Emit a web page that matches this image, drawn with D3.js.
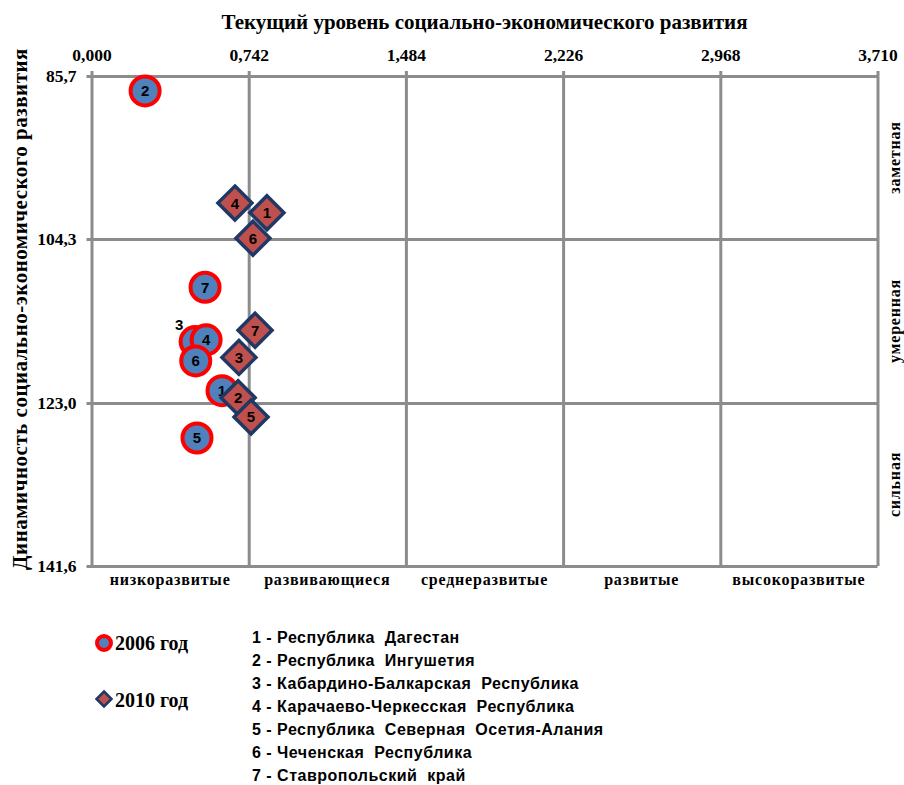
<!DOCTYPE html>
<html>
<head>
<meta charset="utf-8">
<script src="https://cdn.jsdelivr.net/npm/d3@7"></script>
<style>
  body { margin: 0; background: #fff; }
  svg { display: block; }
  .serif { font-family: "Liberation Serif", "Times New Roman", serif; font-weight: bold; }
  .sans { font-family: "Liberation Sans", Arial, sans-serif; font-weight: bold; }
</style>
</head>
<body>
<div id="chart"></div>
<script>
// regions (numbered 1..7 in the legend)
const regions = [
    "Республика  Дагестан",
    "Республика  Ингушетия",
    "Кабардино-Балкарская  Республика",
    "Карачаево-Черкесская  Республика",
    "Республика  Северная  Осетия-Алания",
    "Чеченская  Республика",
    "Ставропольский  край"
];

// 2006: current level (x) and dynamics (y)
const x2006 = [0.616, 0.253, 0.489, 0.541, 0.498, 0.492, 0.536];
const y2006 = [121.6, 87.4, 116.0, 115.8, 127.0, 118.2, 109.8];

// 2010
const x2010 = [0.828, 0.692, 0.696, 0.677, 0.753, 0.762, 0.772];
const y2010 = [101.3, 122.4, 117.8, 100.2, 124.6, 104.2, 114.7];

const xTicks = [0, 0.742, 1.484, 2.226, 2.968, 3.710];
const yTicks = [85.7, 104.3, 123.0, 141.6];
const levelLabels = ["низкоразвитые", "развивающиеся", "среднеразвитые", "развитые", "высокоразвитые"];
const dynamicsLabels = ["заметная", "умеренная", "сильная"];
const seriesNames = ["2006 год", "2010 год"];

const width = 904, height = 785;
const margin = { top: 76, right: 26.5, bottom: 219, left: 91.5 };
const gridColor = "#8c8c8c";

const svg = d3.select("#chart").append("svg")
    .attr("width", width)
    .attr("height", height);

const x = d3.scaleLinear()
    .domain([0, 3.710])
    .range([margin.left, width - margin.right]);

const y = d3.scaleLinear()
    .domain([85.7, 141.6])
    .range([margin.top, height - margin.bottom]);

const comma = d => d.toFixed(3).replace(".", ",");
const comma1 = d => d.toFixed(1).replace(".", ",");

// top axis with vertical grid lines
const xAxis = d3.axisTop(x)
    .tickValues(xTicks)
    .tickFormat(comma)
    .tickSizeInner(-(y(141.6) - y(85.7) + 5))
    .tickSizeOuter(0)
    .tickPadding(10);

const gx = svg.append("g")
    .attr("transform", `translate(0,${y(85.7) - 5})`)
    .call(xAxis);

// left axis with horizontal grid lines
const yAxis = d3.axisLeft(y)
    .tickValues(yTicks)
    .tickFormat(comma1)
    .tickSizeInner(-(x(3.710) - x(0) + 5))
    .tickSizeOuter(0)
    .tickPadding(10);

const gy = svg.append("g")
    .attr("transform", `translate(${x(0) - 5},0)`)
    .call(yAxis);

[gx, gy].forEach(g => {
    g.select(".domain").remove();
    g.selectAll(".tick line")
        .attr("stroke", gridColor)
        .attr("stroke-width", 3);
    g.selectAll(".tick text")
        .attr("class", "serif")
        .attr("fill", "#000")
        .style("font-size", "17.5px");
});

// titles
svg.append("text")
    .attr("class", "serif")
    .attr("x", (x(0) + x(3.710)) / 2)
    .attr("y", 29)
    .attr("text-anchor", "middle")
    .style("font-size", "21px")
    .text("Текущий уровень социально-экономического развития");

svg.append("text")
    .attr("class", "serif")
    .attr("transform", `translate(27,309) rotate(-90)`)
    .attr("text-anchor", "middle")
    .style("font-size", "21px")
    .style("letter-spacing", "0.5px")
    .text("Динамичность социально-экономического развития");

// level labels under the bands
svg.append("g").selectAll("text")
    .data(levelLabels)
    .join("text")
    .attr("class", "serif")
    .attr("x", (d, i) => (x(xTicks[i]) + x(xTicks[i + 1])) / 2)
    .attr("y", y(141.6) + 19)
    .attr("text-anchor", "middle")
    .style("font-size", "16px")
    .style("letter-spacing", "0.8px")
    .text(d => d);

// dynamics labels at the right
svg.append("g").selectAll("text")
    .data(dynamicsLabels)
    .join("text")
    .attr("class", "serif")
    .attr("transform", (d, i) => `translate(${x(3.710) + 22},${(y(yTicks[i]) + y(yTicks[i + 1])) / 2}) rotate(-90)`)
    .attr("text-anchor", "middle")
    .style("font-size", "16px")
    .style("letter-spacing", "0.8px")
    .text(d => d);

// markers
const circleR = 14.5;
const diamond = h => `M0,${-h}L${h},0L0,${h}L${-h},0Z`;

const pts2006 = x2006.map((v, i) => ({ n: i + 1, x: v, y: y2006[i] }));
const pts2010 = x2010.map((v, i) => ({ n: i + 1, x: v, y: y2010[i] }));

const g06 = svg.append("g").selectAll("g")
    .data(pts2006)
    .join("g")
    .attr("transform", d => `translate(${x(d.x)},${y(d.y)})`);

g06.append("circle")
    .attr("r", circleR)
    .attr("fill", "#4f81bd")
    .attr("stroke", "#ff0000")
    .attr("stroke-width", 4);

// 2006 labels (#3 is pushed out to the upper left)
svg.append("g").selectAll("text")
    .data(pts2006)
    .join("text")
    .attr("class", "sans")
    .attr("x", d => x(d.x) + (d.n === 3 ? -16 : 0))
    .attr("y", d => y(d.y) + (d.n === 3 ? -17 : 0))
    .attr("dy", "0.36em")
    .attr("text-anchor", "middle")
    .style("font-size", "15px")
    .text(d => d.n);

const g10 = svg.append("g").selectAll("g")
    .data(pts2010)
    .join("g")
    .attr("transform", d => `translate(${x(d.x)},${y(d.y)})`);

g10.append("path")
    .attr("d", diamond(17))
    .attr("fill", "#c0504d")
    .attr("stroke", "#1f3864")
    .attr("stroke-width", 3.5);

g10.append("text")
    .attr("class", "sans")
    .attr("dy", "0.36em")
    .attr("text-anchor", "middle")
    .style("font-size", "15px")
    .text(d => d.n);

// legend
const leg = svg.append("g");
leg.append("circle")
    .attr("cx", 104).attr("cy", 643)
    .attr("r", 7)
    .attr("fill", "#4f81bd")
    .attr("stroke", "#ff0000")
    .attr("stroke-width", 4);
leg.append("path")
    .attr("transform", "translate(104,699)")
    .attr("d", diamond(7.5))
    .attr("fill", "#c0504d")
    .attr("stroke", "#1f3864")
    .attr("stroke-width", 2.5);
leg.selectAll("text.series")
    .data(seriesNames)
    .join("text")
    .attr("class", "serif")
    .attr("x", 115)
    .attr("y", (d, i) => 643 + i * 57)
    .attr("dy", "0.35em")
    .style("font-size", "20px")
    .text(d => d);

leg.selectAll("text.region")
    .data(regions)
    .join("text")
    .attr("class", "sans")
    .attr("x", 252)
    .attr("y", (d, i) => 637 + i * 23)
    .attr("dy", "0.35em")
    .style("white-space", "pre")
    .style("font-size", "16px")
    .style("letter-spacing", "0.5px")
    .text((d, i) => `${i + 1} - ${d}`);
</script>
</body>
</html>
